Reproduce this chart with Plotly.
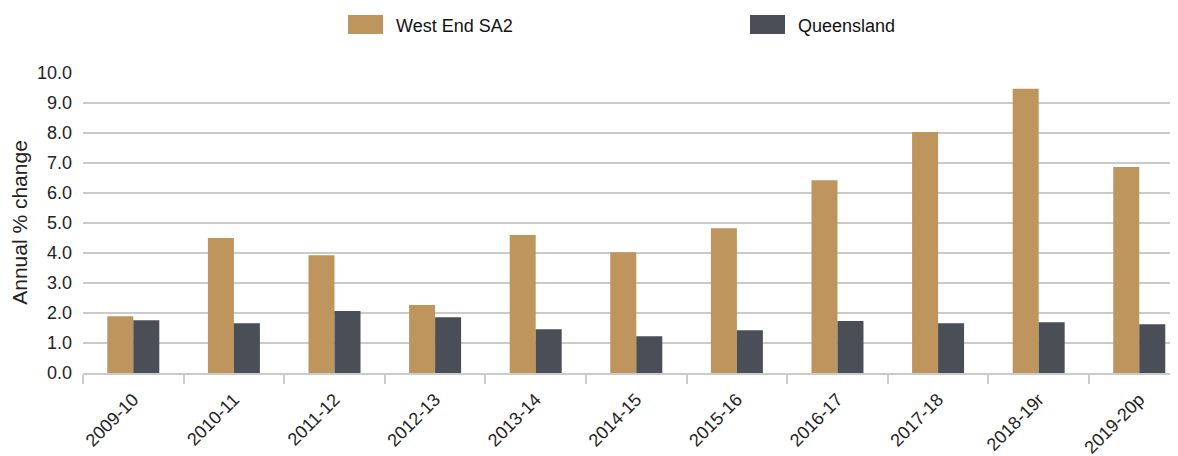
import plotly.graph_objects as go

categories = ["2009-10", "2010-11", "2011-12", "2012-13", "2013-14", "2014-15",
              "2015-16", "2016-17", "2017-18", "2018-19r", "2019-20p"]
west_end = [1.89, 4.49, 3.92, 2.26, 4.59, 4.02, 4.82, 6.42, 8.02, 9.46, 6.86]
queensland = [1.76, 1.66, 2.06, 1.86, 1.46, 1.22, 1.42, 1.73, 1.66, 1.69, 1.62]
series_names = ["West End SA2", "Queensland"]
series_colors = ["#BE955C", "#4A4F57"]
y_ticks = [0, 1, 2, 3, 4, 5, 6, 7, 8, 9, 10]

FONT = "Liberation Sans, Arial, sans-serif"
GRID = "#cbcbcb"

W, H = 1170, 448
L, R, T, B = 75, 0, 64, 83
PW, PH = W - L - R, H - T - B


def px_x(page_x):
    return (page_x - 8 - L) / PW


def px_y(page_y):
    return (H - B + 8 - page_y) / PH


fig = go.Figure()
for name, vals, col in zip(series_names, [west_end, queensland], series_colors):
    fig.add_trace(go.Bar(name=name, x=categories, y=vals, showlegend=False,
                         marker=dict(color=col, line=dict(width=0))))

# custom legend (large swatches like the reference)
legend_left = [348, 750]
for name, col, lx in zip(series_names, series_colors, legend_left):
    fig.add_shape(type="rect", xref="paper", yref="paper",
                  x0=px_x(lx), x1=px_x(lx + 35), y0=px_y(34), y1=px_y(15),
                  fillcolor=col, line=dict(width=0), layer="above")
    fig.add_annotation(xref="paper", yref="paper", x=px_x(lx + 46), y=px_y(26.5),
                       xanchor="left", yanchor="middle", showarrow=False,
                       text=name, font=dict(size=18, color="#111111"))

fig.update_layout(
    width=W, height=H,
    margin=dict(l=L, r=R, t=T, b=B, autoexpand=False),
    paper_bgcolor="white", plot_bgcolor="white",
    barmode="group", bargap=0.483, bargroupgap=0,
    font=dict(family=FONT, size=18, color="#222222"),
    showlegend=False,
)
fig.update_yaxes(range=[0, 10.02], tickvals=y_ticks, tickformat=".1f",
                 showgrid=True, gridcolor=GRID, gridwidth=2,
                 zeroline=False, showline=False, ticks="",
                 ticklabelstandoff=10,
                 title=dict(text="Annual % change", font=dict(size=21), standoff=7),
                 tickfont=dict(size=18))
fig.update_xaxes(type="category", range=[-0.5, 10.385],
                 showline=True, linecolor=GRID, linewidth=2,
                 ticks="outside", tickson="boundaries", ticklen=9,
                 tickcolor=GRID, tickwidth=2, ticklabelstandoff=7,
                 tickangle=-45, tickfont=dict(size=18), showgrid=False)

fig.write_html("out.html")
